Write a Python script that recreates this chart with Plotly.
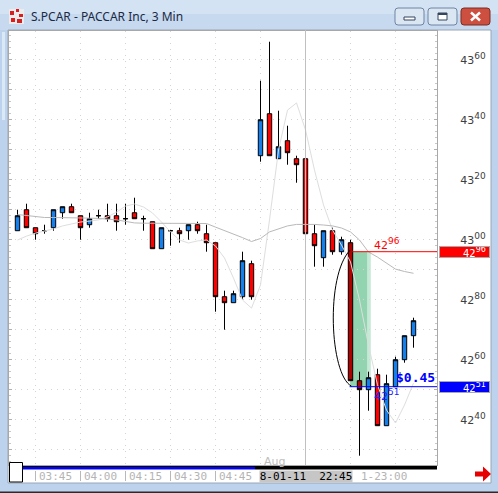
import plotly.graph_objects as go

W, H = 498, 493

# ---------------- data ----------------
times = ["03:39", "03:42", "03:45", "03:48", "03:51", "03:54", "03:57", "04:00", "04:03", "04:06",
         "04:09", "04:12", "04:15", "04:18", "04:21", "04:24", "04:27", "04:30", "04:33", "04:36",
         "04:39", "04:42", "04:45", "04:48", "04:51", "04:54", "04:57",
         "22:30", "22:33", "22:36", "22:39", "22:42", "22:45", "22:48", "22:51", "22:54", "22:57",
         "23:00", "23:03", "23:06", "23:09", "23:12", "23:15", "23:18", "23:21"]

opens = [43.03, 43.10, 43.04, 43.03, 43.04, 43.09, 43.11, 43.08, 43.05, 43.08,
         43.08, 43.08, 43.07, 43.09, 43.07, 43.06, 42.97, 43.03, 43.03, 43.03,
         43.05, 43.02, 42.99, 42.81, 42.79, 42.81, 42.92,
         43.28, 43.42, 43.27, 43.33, 43.27, 43.27, 43.02, 42.94, 43.03, 42.96,
         42.99, 42.53, 42.50, 42.55, 42.38, 42.51, 42.60, 42.68]
highs = [43.10, 43.12, 43.04, 43.05, 43.10, 43.11, 43.12, 43.08, 43.09, 43.10,
         43.12, 43.12, 43.12, 43.14, 43.08, 43.06, 43.04, 43.03, 43.04, 43.05,
         43.06, 43.05, 42.99, 42.83, 42.83, 42.96, 42.93,
         43.53, 43.66, 43.43, 43.38, 43.28, 43.27, 43.05, 43.03, 43.04, 43.01,
         43.00, 42.56, 42.56, 42.57, 42.55, 42.61, 42.68, 42.74]
lows = [43.03, 43.04, 43.00, 43.02, 43.03, 43.07, 43.09, 43.00, 43.04, 43.07,
        43.06, 43.03, 43.05, 43.07, 43.03, 42.97, 42.97, 42.98, 42.99, 43.00,
        43.02, 42.96, 42.76, 42.70, 42.79, 42.80, 42.80,
        43.26, 43.28, 43.27, 43.25, 43.19, 43.00, 42.91, 42.91, 42.95, 42.95,
        42.53, 42.28, 42.43, 42.38, 42.38, 42.51, 42.59, 42.64]
closes = [43.08, 43.04, 43.02, 43.03, 43.10, 43.11, 43.09, 43.04, 43.07, 43.08,
          43.07, 43.06, 43.07, 43.07, 43.07, 42.97, 43.04, 43.03, 43.02, 43.05,
          43.03, 42.99, 42.81, 42.79, 42.82, 42.93, 42.81,
          43.40, 43.28, 43.31, 43.29, 43.25, 43.02, 42.98, 43.03, 42.96, 43.00,
          42.53, 42.50, 42.54, 42.38, 42.52, 42.60, 42.68, 42.73]

ma_slow = [43.084, 43.081, 43.077, 43.074, 43.074, 43.074, 43.072, 43.072, 43.072, 43.071,
           43.069, 43.066, 43.061, 43.056, 43.055, 43.055, 43.055, 43.055, 43.055, 43.055,
           43.055, 43.054, 43.042, 43.031, 43.019, 43.007, 42.994,
           43.004, 43.026, 43.037, 43.046, 43.051, 43.052, 43.051, 43.049, 43.046, 43.039,
           43.026, 42.999, 42.959, 42.942, 42.921, 42.902, 42.894, 42.888]
ma_fast = [42.999, 43.012, 43.022, 43.029, 43.036, 43.046, 43.052, 43.059, 43.062, 43.066,
           43.076, 43.092, 43.112, 43.119, 43.109, 43.089, 43.059, 43.026, 42.999, 42.989,
           42.996, 42.999, 42.979, 42.939, 42.872, 42.799, 42.772,
           42.849, 43.066, 43.299, 43.432, 43.456, 43.366, 43.232, 43.116, 43.032, 42.982,
           42.926, 42.799, 42.649, 42.516, 42.432, 42.389, 42.449, 42.522]

price_ticks = [42.30, 42.40, 42.50, 42.60, 42.70, 42.80, 42.90, 43.00, 43.10, 43.20, 43.30, 43.40, 43.50, 43.60]
price_label_ticks = [42.40, 42.60, 42.80, 43.00, 43.20, 43.40, 43.60]
time_labels = ["03:45", "04:00", "04:15", "04:30", "04:45"]
grid_times = ["03:45", "04:00", "04:15", "04:30", "04:45", "22:30", "22:45", "23:00", "23:15"]
session_start = "22:30"
session_label = "Aug"
cursor_time = "22:45"
cursor_label = "8-01-11  22:45"
next_time = "23:00"
next_label = "1-23:00"
selected_times = ["23:00", "23:03"]
measure_time = "23:00"
measure_high = 42.96
measure_low = 42.51
title = "S.PCAR - PACCAR Inc, 3 Min"

# ---------------- helpers ----------------
def PX(x):
    return x / W


def PY(y):
    return 1 - y / H


def price_text(p, sup_px=9):
    s = f"{p:.2f}"
    return s[:2] + f"<sup><span style='font-size:{sup_px}px'>" + s[3:] + "</span></sup>"


def rrect(x0, y0, x1, y1, r):
    pts = [("M", x0 + r, y0), ("L", x1 - r, y0), ("Q", x1, y0, x1, y0 + r), ("L", x1, y1 - r),
           ("Q", x1, y1, x1 - r, y1), ("L", x0 + r, y1), ("Q", x0, y1, x0, y1 - r), ("L", x0, y0 + r),
           ("Q", x0, y0, x0 + r, y0)]
    out = []
    for p in pts:
        cmd = p[0]
        coords = p[1:]
        s = cmd + " " + " ".join(f"{PX(coords[i]):.5f},{PY(coords[i+1]):.5f}" for i in range(0, len(coords), 2))
        out.append(s)
    return " ".join(out) + " Z"


def poly(points):
    return "M " + " L ".join(f"{PX(x):.5f},{PY(y):.5f}" for x, y in points) + " Z"


idx = list(range(len(times)))
sel = [times.index(t) for t in selected_times]
norm = [i for i in idx if i not in sel]
price_labels = [price_text(v) if v in price_label_ticks else "" for v in price_ticks]

fig = go.Figure()

# moving averages
fig.add_trace(go.Scatter(x=idx, y=ma_fast, mode="lines", line=dict(color="#dedede", width=1), hoverinfo="skip"))
fig.add_trace(go.Scatter(x=idx, y=ma_slow, mode="lines", line=dict(color="#b9b9b9", width=1), hoverinfo="skip"))

# candles
fig.add_trace(go.Candlestick(
    x=[idx[i] for i in norm], open=[opens[i] for i in norm], high=[highs[i] for i in norm],
    low=[lows[i] for i in norm], close=[closes[i] for i in norm],
    increasing=dict(line=dict(color="black", width=1), fillcolor="#1380ee"),
    decreasing=dict(line=dict(color="black", width=1), fillcolor="#ff0000"),
    whiskerwidth=0, hoverinfo="skip"))
fig.add_trace(go.Candlestick(
    x=[idx[i] for i in sel], open=[opens[i] for i in sel], high=[highs[i] for i in sel],
    low=[lows[i] for i in sel], close=[closes[i] for i in sel],
    increasing=dict(line=dict(color="black", width=1), fillcolor="#3f86c0"),
    decreasing=dict(line=dict(color="black", width=1), fillcolor="#b00000"),
    whiskerwidth=0, hoverinfo="skip"))

x_min, x_max = -0.944, 46.611
y_top = 43.6957
y_bot = 42.249

grid_idx = [times.index(t) for t in grid_times]

shapes = []
annotations = []

# ---- window chrome ----
shapes.append(dict(type="rect", xref="paper", yref="paper", x0=0, x1=1, y0=PY(0), y1=PY(14),
                   fillcolor="#d4e3f4", line_width=0, layer="below"))
shapes.append(dict(type="rect", xref="paper", yref="paper", x0=0, x1=1, y0=PY(14), y1=PY(30),
                   fillcolor="#c6d9ef", line_width=0, layer="below"))
shapes.append(dict(type="rect", xref="paper", yref="paper", x0=PX(2), x1=PX(5), y0=PY(120), y1=PY(32),
                   fillcolor="#dbe8f6", line_width=0, layer="below"))
# client area
shapes.append(dict(type="rect", xref="paper", yref="paper", x0=PX(8), x1=PX(491), y0=PY(30), y1=PY(483),
                   fillcolor="white", line=dict(color="#9aa6b4", width=1), layer="below"))
# bottom screen edge
shapes.append(dict(type="rect", xref="paper", yref="paper", x0=0, x1=1, y0=PY(493), y1=PY(491.5),
                   fillcolor="#2a2a2a", line_width=0))
# buttons
shapes.append(dict(type="path", xref="paper", yref="paper", path=rrect(395, 8, 424, 25, 3),
                   fillcolor="#dbe6f3", line=dict(color="#6e84a4", width=1)))
shapes.append(dict(type="path", xref="paper", yref="paper", path=rrect(428, 8, 457, 25, 3),
                   fillcolor="#dbe6f3", line=dict(color="#6e84a4", width=1)))
shapes.append(dict(type="path", xref="paper", yref="paper", path=rrect(461, 8, 490, 25, 3),
                   fillcolor="#cc4f40", line=dict(color="#7a2d24", width=1)))
shapes.append(dict(type="rect", xref="paper", yref="paper", x0=PX(404), x1=PX(415), y0=PY(20), y1=PY(17),
                   fillcolor="white", line=dict(color="#34455e", width=1)))
shapes.append(dict(type="rect", xref="paper", yref="paper", x0=PX(438), x1=PX(447), y0=PY(20), y1=PY(13),
                   fillcolor="white", line=dict(color="#34455e", width=1)))
shapes.append(dict(type="rect", xref="paper", yref="paper", x0=PX(438), x1=PX(447), y0=PY(15), y1=PY(13),
                   fillcolor="#34455e", line_width=0))
shapes.append(dict(type="line", xref="paper", yref="paper", x0=PX(471), x1=PX(480), y0=PY(12.5), y1=PY(20.5),
                   line=dict(color="white", width=2.5)))
shapes.append(dict(type="line", xref="paper", yref="paper", x0=PX(471), x1=PX(480), y0=PY(20.5), y1=PY(12.5),
                   line=dict(color="white", width=2.5)))
# app icon
shapes.append(dict(type="rect", xref="paper", yref="paper", x0=PX(9), x1=PX(24), y0=PY(24), y1=PY(9),
                   fillcolor="#ececec", line_width=0))
for (a, b, c, d) in [(10, 11, 14, 15), (16, 9, 19, 12), (19, 14, 23, 17), (11, 18, 15, 22), (17, 19, 22, 23)]:
    shapes.append(dict(type="rect", xref="paper", yref="paper", x0=PX(a), x1=PX(c), y0=PY(d), y1=PY(b),
                       fillcolor="#d81e1e", line_width=0))

# ---- time strip ----
shapes.append(dict(type="rect", xref="paper", yref="paper", x0=PX(9), x1=PX(437), y0=PY(467), y1=PY(466),
                   fillcolor="black", line_width=0))
shapes.append(dict(type="rect", xref="paper", yref="paper", x0=PX(22.5), x1=PX(255), y0=PY(469.5), y1=PY(467),
                   fillcolor="#0000ff", line_width=0))
shapes.append(dict(type="rect", xref="paper", yref="paper", x0=PX(255), x1=PX(437), y0=PY(469.5), y1=PY(467),
                   fillcolor="black", line_width=0))
shapes.append(dict(type="rect", xref="paper", yref="paper", x0=PX(9.5), x1=PX(22.5), y0=PY(482), y1=PY(462.5),
                   fillcolor="white", line=dict(color="black", width=1)))
for t in time_labels:
    i = times.index(t)
    shapes.append(dict(type="line", xref="x", yref="paper", x0=i, x1=i, y0=PY(481), y1=PY(471),
                       line=dict(color="#b8b8b8", width=1)))
    annotations.append(dict(x=i, y=PY(476.5), xref="x", yref="paper", text=t, showarrow=False,
                            xanchor="left", yanchor="middle", xshift=1,
                            font=dict(family="DejaVu Sans Mono", size=11, color="#b4b4b4")))
annotations.append(dict(x=times.index(next_time), y=PY(476.5), xref="x", yref="paper", text=next_label,
                        showarrow=False, xanchor="left", yanchor="middle", xshift=8,
                        font=dict(family="DejaVu Sans Mono", size=11, color="#b4b4b4")))
annotations.append(dict(x=times.index(cursor_time), y=PY(476.3), xref="x", yref="paper", text=cursor_label,
                        showarrow=False, xanchor="center", yanchor="middle", bgcolor="#c6c6c6",
                        width=92, height=11, borderpad=0,
                        font=dict(family="DejaVu Sans Mono", size=11, color="black")))
# red arrow
shapes.append(dict(type="path", xref="paper", yref="paper",
                   path=poly([(475, 471.5), (483, 471.5), (483, 466.5), (491, 474), (483, 481.5), (483, 476.5), (475, 476.5)]),
                   fillcolor="#e60000", line_width=0))

# ---- chart drawings ----
mi = times.index(measure_time)
shapes.append(dict(type="rect", xref="x", yref="y", x0=mi - 0.05, x1=mi + 1.9, y0=measure_low, y1=measure_high,
                   fillcolor="#93d4b0", line_width=0, layer="below"))
shapes.append(dict(type="rect", xref="x", yref="y", x0=mi + 1.9, x1=mi + 2.25, y0=measure_low, y1=measure_high,
                   fillcolor="#c4e9d5", line_width=0, layer="below"))
ci = times.index(cursor_time)
shapes.append(dict(type="line", xref="x", yref="paper", x0=ci, x1=ci, y0=PY(465), y1=PY(30),
                   line=dict(color="#c0c0c0", width=1)))
shapes.append(dict(type="line", xref="x", yref="y", x0=mi + 0.2, x1=x_max, y0=measure_high, y1=measure_high,
                   line=dict(color="#ff0000", width=1)))
shapes.append(dict(type="line", xref="x", yref="y", x0=mi - 0.1, x1=x_max, y0=measure_low, y1=measure_low,
                   line=dict(color="#0000ff", width=1)))
shapes.append(dict(type="path", xref="x", yref="y",
                   path=f"M {mi - 0.05},{measure_high + 0.005} C {mi - 2.8},{measure_high - 0.08} "
                        f"{mi - 2.3},{measure_low + 0.04} {mi + 0.1},{measure_low + 0.002}",
                   line=dict(color="black", width=1)))

annotations.append(dict(x=mi + 2.4, y=measure_high, xref="x", yref="y", text=price_text(measure_high),
                        showarrow=False, xanchor="left", yanchor="bottom", yshift=-2,
                        font=dict(family="DejaVu Sans", size=11, color="#ff0000")))
annotations.append(dict(x=mi + 2.4, y=measure_low, xref="x", yref="y", text=price_text(measure_low),
                        showarrow=False, xanchor="left", yanchor="top", yshift=2,
                        font=dict(family="DejaVu Sans", size=11, color="#2020ff")))
annotations.append(dict(x=1, y=measure_low, xref="x domain", yref="y", text=f"<b>${measure_high - measure_low:.2f}</b>",
                        showarrow=False, xanchor="right", yanchor="bottom", yshift=0,
                        font=dict(family="DejaVu Sans Mono", size=13, color="#0000ff")))
annotations.append(dict(x=times.index(session_start), y=PY(461), xref="x", yref="paper", text=session_label,
                        showarrow=False, xanchor="left", yanchor="middle", xshift=1,
                        font=dict(family="DejaVu Sans", size=11, color="#bdbdbd")))
# price boxes on axis
for p, col in [(measure_high, "#ff0000"), (measure_low, "#0000ff")]:
    annotations.append(dict(x=PX(439), y=p, xref="paper", yref="y", text=price_text(p, 8) + "&nbsp;", showarrow=False,
                            xanchor="left", yanchor="middle", width=49, height=10, align="right",
                            bgcolor=col, bordercolor="#a8a8a8", borderwidth=1, borderpad=0,
                            font=dict(family="DejaVu Sans", size=10, color="white")))
# title
annotations.append(dict(x=PX(29), y=PY(16), xref="paper", yref="paper", text=title, showarrow=False,
                        xanchor="left", yanchor="middle",
                        font=dict(family="Noto Sans", size=12, color="#1b2a44")))

fig.update_layout(
    width=W, height=H, margin=dict(l=0, r=0, t=0, b=0),
    paper_bgcolor="#bdd3ed", plot_bgcolor="white", showlegend=False,
    shapes=shapes, annotations=annotations,
    xaxis=dict(domain=[PX(9), PX(437)], range=[x_min, x_max], rangeslider=dict(visible=False),
               tickvals=grid_idx, showticklabels=False, ticks="",
               showgrid=True, gridcolor="#d4d4d4", griddash="1px,5px", gridwidth=1,
               showline=True, linecolor="#a8a8a8", mirror=True, zeroline=False, fixedrange=True),
    yaxis=dict(domain=[PY(465), PY(31)], range=[y_bot, y_top], side="right",
               tickvals=price_ticks, ticktext=price_labels, ticks="inside", ticklen=3, tickcolor="#b0b0b0",
               minor=dict(dtick=0.02, ticks="inside", ticklen=2, tickcolor="#c8c8c8", showgrid=False),
               showgrid=True, gridcolor="#d4d4d4", griddash="1px,5px", gridwidth=1,
               ticklabelstandoff=20,
               tickfont=dict(family="DejaVu Sans", size=11, color="#404040"),
               showline=True, linecolor="#a8a8a8", mirror="ticks", zeroline=False, fixedrange=True),
)

fig.write_html("out.html", config={"displayModeBar": False},
               post_script="document.body.style.margin='0';document.body.style.overflow='hidden';")
